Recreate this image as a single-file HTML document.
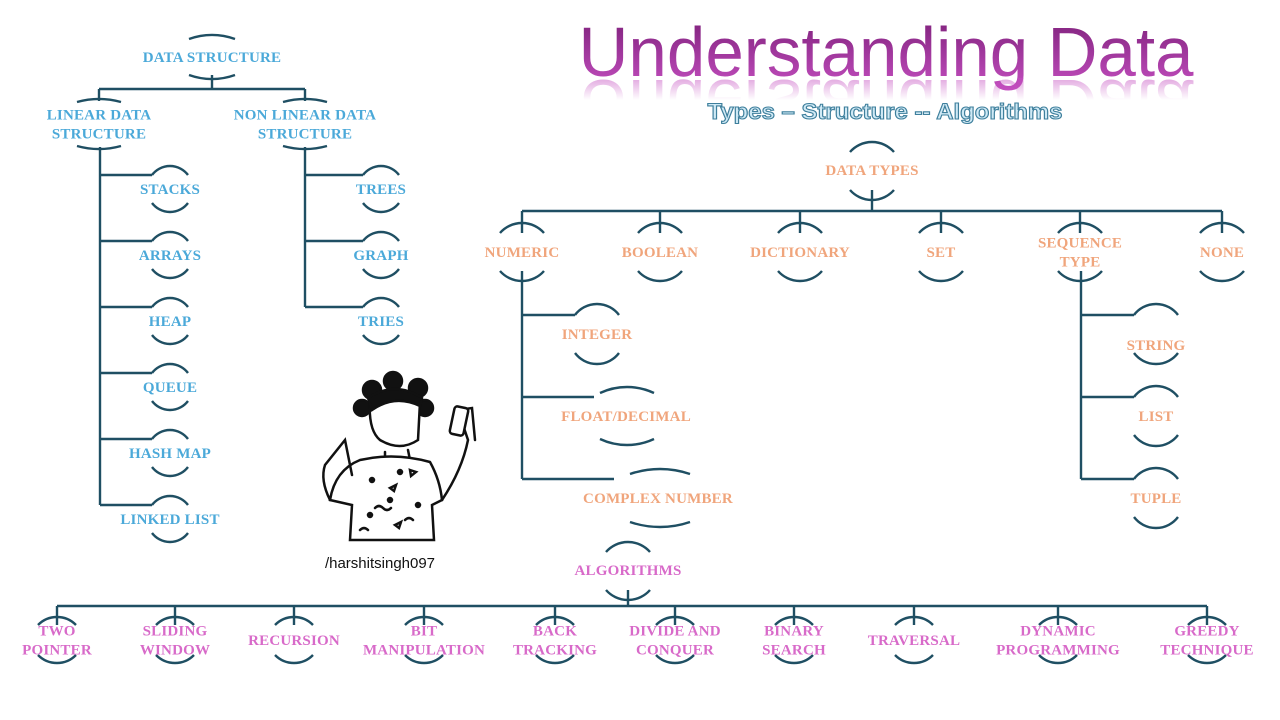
<!DOCTYPE html>
<html><head><meta charset="utf-8"><style>
html,body{margin:0;padding:0;background:#fff;}
svg{display:block;}
.b{fill:#4ba9d9;} .o{fill:#f0a57c;} .p{fill:#d86ac9;}
.nt{font-family:"Liberation Serif",serif;font-size:15px;text-anchor:middle;font-weight:bold;letter-spacing:0.2px;}
</style></head><body>
<svg id="s" width="1280" height="720" viewBox="0 0 1280 720">
<defs>
<linearGradient id="tg" x1="0" y1="0" x2="0" y2="1"><stop offset="0" stop-color="#7b1f78"/><stop offset="1" stop-color="#c44fc0"/></linearGradient>
<linearGradient id="mg" gradientUnits="userSpaceOnUse" x1="0" y1="78" x2="0" y2="100"><stop offset="0" stop-color="#fff" stop-opacity="0.5"/><stop offset="1" stop-color="#fff" stop-opacity="0"/></linearGradient>
<mask id="rm"><rect x="560" y="78" width="660" height="22" fill="url(#mg)"/></mask>
</defs>
<text x="886" y="76" font-family="Liberation Sans,sans-serif" font-size="70" text-anchor="middle" textLength="615" lengthAdjust="spacingAndGlyphs" fill="url(#tg)">Understanding Data</text>
<g mask="url(#rm)"><g transform="translate(0,156) scale(1,-1)"><text x="886" y="76" font-family="Liberation Sans,sans-serif" font-size="70" text-anchor="middle" textLength="615" lengthAdjust="spacingAndGlyphs" fill="#c44fc0">Understanding Data</text></g></g>
<text x="885" y="119" font-family="Liberation Sans,sans-serif" font-size="22" font-weight="bold" text-anchor="middle" textLength="355" lengthAdjust="spacingAndGlyphs" fill="#cfe9f5" stroke="#3e7f9c" stroke-width="1.1">Types – Structure -- Algorithms</text>
<g id="lines" stroke="#1f4f63" stroke-width="2.4" fill="none"></g>
<g id="nodes"></g>
<g id="person" stroke="#111" stroke-width="2.5" fill="none" stroke-linecap="round">
<circle cx="372" cy="390" r="9" fill="#111"/><circle cx="393" cy="381" r="9" fill="#111"/><circle cx="418" cy="388" r="9" fill="#111"/><circle cx="362" cy="408" r="8" fill="#111"/><circle cx="425" cy="408" r="8" fill="#111"/>
<path d="M370 400 Q395 385 420 402 L418 440 Q400 452 380 440 Q368 430 370 400Z" fill="#fff"/>
<path d="M368 398 Q395 380 422 398 L420 406 Q395 394 372 410Z" fill="#111"/>
<path d="M385 452 L385 460 M408 450 L410 460"/>
<path d="M360 460 Q395 452 430 462 Q440 480 442 500 L432 505 L434 540 L350 540 L352 505 L330 500 Q335 470 360 460Z" fill="#fff"/>
<path d="M330 500 Q320 480 325 465 L345 440 L352 475"/>
<path d="M442 500 Q462 470 468 440 L458 410 L472 408 L475 440"/>
<rect x="452" y="407" width="14" height="28" rx="3" fill="#fff" transform="rotate(12 459 421)"/>
<circle cx="372" cy="480" r="2" fill="#111"/><circle cx="400" cy="472" r="2" fill="#111"/><circle cx="390" cy="500" r="2" fill="#111"/><circle cx="418" cy="505" r="2" fill="#111"/><circle cx="370" cy="515" r="2" fill="#111"/>
<path d="M390 488 l6 -3 l-2 6z M395 525 l6 -3 l-2 6z M410 470 l6 2 l-5 4z"/>
<path d="M375 508 q4 -4 8 0 q4 4 8 0 M405 520 q4 -4 8 0 M360 530 q4 -4 8 0"/>
</g>
<text x="380" y="568" font-family="Liberation Sans,sans-serif" font-size="15" text-anchor="middle" fill="#111">/harshitsingh097</text>
</svg>
<script>
const dsLabels=[["DATA STRUCTURE"],["LINEAR DATA","STRUCTURE"],["NON LINEAR DATA","STRUCTURE"]];
const dsCenters=[[212,57],[99,124],[305,124]];
const linearLeaves=["STACKS","ARRAYS","HEAP","QUEUE","HASH MAP","LINKED LIST"];
const nonLinearLeaves=["TREES","GRAPH","TRIES"];
const dtChildren=[["NUMERIC"],["BOOLEAN"],["DICTIONARY"],["SET"],["SEQUENCE","TYPE"],["NONE"]];
const dtX=[522,660,800,941,1080,1222];
const numericLeaves=["INTEGER","FLOAT/DECIMAL","COMPLEX NUMBER"];
const seqLeaves=["STRING","LIST","TUPLE"];
const algoChildren=[["TWO","POINTER"],["SLIDING","WINDOW"],["RECURSION"],["BIT","MANIPULATION"],["BACK","TRACKING"],["DIVIDE AND","CONQUER"],["BINARY","SEARCH"],["TRAVERSAL"],["DYNAMIC","PROGRAMMING"],["GREEDY","TECHNIQUE"]];
const algoX=[57,175,294,424,555,675,794,914,1058,1207];

const NS="http://www.w3.org/2000/svg";
const L=document.getElementById('lines'),N=document.getElementById('nodes');
function line(x1,y1,x2,y2){const p=document.createElementNS(NS,'line');p.setAttribute('x1',x1);p.setAttribute('y1',y1);p.setAttribute('x2',x2);p.setAttribute('y2',y2);


L.appendChild(p);}
function node(lines,cx,cy,h,w,d,cls,name,tx,ty){
  const r=(w*w+d*d)/(2*d);
  const a=document.createElementNS(NS,'path');
  a.setAttribute('d',`M${cx-w},${cy-h} A${r} ${r} 0 0 1 ${cx+w},${cy-h} M${cx-w},${cy+h} A${r} ${r} 0 0 0 ${cx+w},${cy+h}`);
  
  
  L.appendChild(a);
  tx=tx===undefined?cx:tx; ty=ty===undefined?cy:ty;
  lines.forEach((t,i)=>{const e=document.createElementNS(NS,'text');
    e.setAttribute('x',tx);e.setAttribute('y',ty+5+(i-(lines.length-1)/2)*19);
    e.setAttribute('class','nt '+cls);e.textContent=t;
    
    
    N.appendChild(e);});
}
function slug(s){return s.join('-').toLowerCase().replace(/[^a-z0-9]+/g,'-');}
node(dsLabels[0],dsCenters[0][0],dsCenters[0][1],18,23,4,'b','data-structure');
line(212,75,212,89);line(99,89,305,89);
[1,2].forEach(i=>{const [cx,cy]=dsCenters[i];node(dsLabels[i],cx,cy,22,22,3,'b',slug(dsLabels[i]));line(cx,89,cx,101);});
function leafCol(leaves,xv,xc,y0,cls){
  let last=0;leaves.forEach((t,i)=>{const cy=y0+i*66;node([t],xc,cy,14,18,9,cls,slug([t]));line(xv,cy-14,xc-18,cy-14);last=cy-14;});
  line(xv,147,xv,last);
}
leafCol(linearLeaves,100,170,189,'b');
leafCol(nonLinearLeaves,305,381,189,'b');
node(["DATA TYPES"],872,171,19,22,10,'o','data-types',872,170);
line(872,190,872,211);line(dtX[0],211,dtX[dtX.length-1],211);
dtChildren.forEach((c,i)=>{node(c,dtX[i],252,19,22,10,'o',slug(c));line(dtX[i],211,dtX[i],233);});
line(522,271,522,479);
node([numericLeaves[0]],597,334,19,22,11,'o','integer',597,334);line(522,315,575,315);
node([numericLeaves[1]],627,416,23,27,6,'o','float-decimal',626,416);line(522,397,594,397);
node([numericLeaves[2]],660,498,24,30,5,'o','complex-number',658,498);line(522,479,614,479);
line(1081,271,1081,479);
const seqCy=[334,416,498],seqTy=[345,416,498];
seqLeaves.forEach((t,i)=>{node([t],1156,seqCy[i],19,22,11,'o',slug([t]),1156,seqTy[i]);line(1081,seqCy[i]-19,1134,seqCy[i]-19);});
node(["ALGORITHMS"],628,571,19,22,10,'p','algorithms',628,570);
line(628,590,628,606);line(algoX[0],606,algoX[algoX.length-1],606);
algoChildren.forEach((c,i)=>{node(c,algoX[i],640,15,19,8,'p',slug(c));line(algoX[i],606,algoX[i],625);});
</script>
</body></html>
